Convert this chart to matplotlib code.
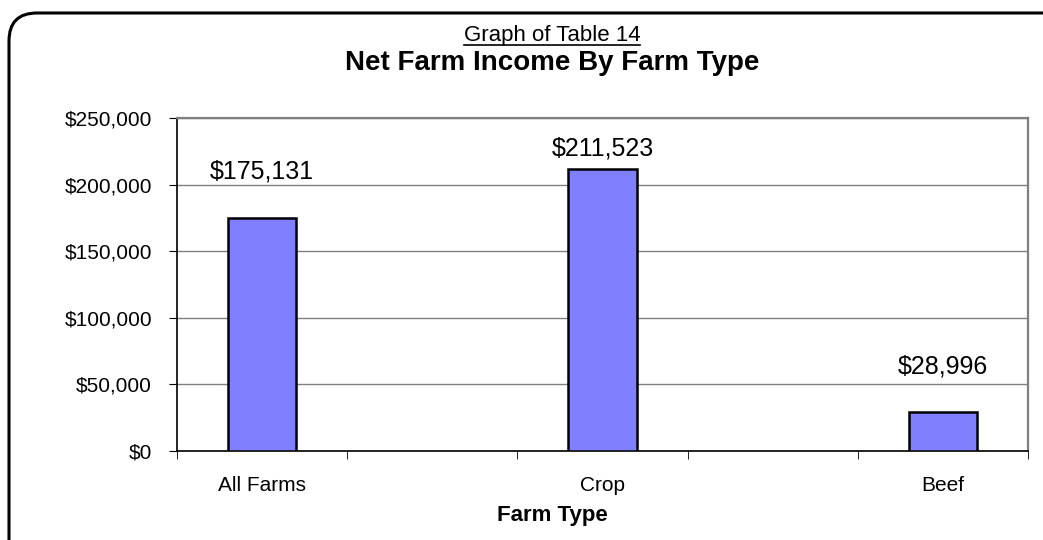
import numpy as np
import matplotlib
matplotlib.use("Agg")
import matplotlib.pyplot as plt
from matplotlib.patches import FancyBboxPatch
from matplotlib.lines import Line2D
from matplotlib.transforms import IdentityTransform
from matplotlib.ticker import FuncFormatter, MultipleLocator

categories = ["All Farms", "", "Crop", "", "Beef"]
values = [175131, None, 211523, None, 28996]
value_labels = ["$175,131", "", "$211,523", "", "$28,996"]
y_max = 250000
y_step = 50000

plt.rcParams['font.family'] = ['Liberation Sans', 'DejaVu Sans']

fig = plt.figure(figsize=(10.43, 5.40), dpi=100)
ax = fig.add_axes([177 / 1043, 1 - 451 / 540, (1028 - 177) / 1043, (451 - 118) / 540])

# rounded frame round the whole chart (runs off the right and bottom edges)
frame = FancyBboxPatch((9, -40), 1084, 540 - 13 + 40,
                       boxstyle="round,pad=0,rounding_size=28",
                       transform=IdentityTransform(), fill=False,
                       edgecolor="black", linewidth=2.2, zorder=10)
fig.patches.append(frame)

xs = np.arange(len(categories))
bar_x = [x for x, v in zip(xs, values) if v is not None]
bar_h = [v for v in values if v is not None]
ax.bar(bar_x, bar_h, width=0.4, color="#8080FF", edgecolor="black",
       linewidth=1.8, zorder=3)

for x, v, lab in zip(xs, values, value_labels):
    if v is None:
        continue
    ax.text(x, min(v + 29300, 222000), lab, ha="center", va="baseline",
            fontsize=18, zorder=4)

ax.set_xlim(-0.5, len(categories) - 0.5)
ax.set_ylim(0, y_max)
ax.yaxis.set_major_locator(MultipleLocator(y_step))
ax.yaxis.set_major_formatter(FuncFormatter(lambda v, p: f"${v:,.0f}"))
ax.grid(axis="y", color="#808080", linewidth=1.0, zorder=0)

ax.set_xticks(xs)
ax.set_xticklabels(categories, fontsize=15)
ax.set_xticks(np.arange(-0.5, len(categories)), minor=True)
ax.tick_params(axis="x", which="major", length=0, pad=18)
ax.tick_params(axis="x", which="minor", length=6, direction="out", color="black")
ax.tick_params(axis="y", length=6, direction="out", labelsize=15, pad=12)

for side in ("top", "right"):
    ax.spines[side].set_color("#808080")
    ax.spines[side].set_linewidth(1.6)
for side in ("left", "bottom"):
    ax.spines[side].set_color("black")
    ax.spines[side].set_linewidth(1.2)

cx = 552 / 1043
fig.text(cx, 1 - 516 / 540, "Farm Type", ha="center", va="center",
         fontsize=16, fontweight="bold")
t1 = fig.text(cx, 1 - 36 / 540, "Graph of Table 14", ha="center", va="center",
              fontsize=16)
fig.text(cx, 1 - 63 / 540, "Net Farm Income By Farm Type", ha="center",
         va="center", fontsize=20, fontweight="bold")

# underline for the small heading
fig.canvas.draw()
bb = t1.get_window_extent(renderer=fig.canvas.get_renderer())
uy = bb.y0 + 2
fig.add_artist(Line2D([bb.x0, bb.x1], [uy, uy], transform=IdentityTransform(),
                      color="black", linewidth=1.2))

fig.savefig("out.png", dpi=100)
